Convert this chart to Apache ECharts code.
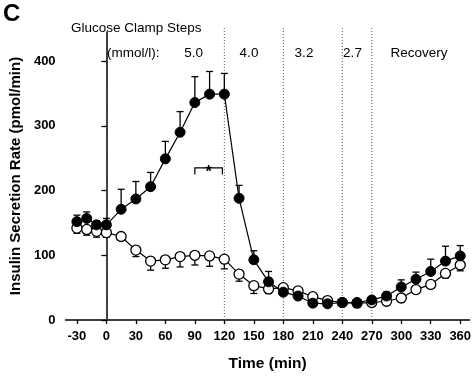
<!DOCTYPE html>
<html>
<head>
<meta charset="utf-8">
<script src="https://cdn.jsdelivr.net/npm/echarts@6/dist/echarts.min.js"></script>
<style>html,body{margin:0;padding:0;background:#fff;}#c{width:474px;height:378px;}</style>
</head>
<body>
<div id="c"></div>
<script>
const times = [-30,-20,-10,0,15,30,45,60,75,90,105,120,135,150,165,180,195,210,225,240,255,270,285,300,315,330,345,360];
const filledMean = [152,157,147,147,171,187,206,249,290,336,349,349,188,93,59,43,37,26,25,27,27,31,37,51,63,75,91,99];
const filledErr  = [10,10,6,10,31,27,22,27,32,40,35,32,20,14,16,5,4,3,3,3,4,5,6,11,11,19,23,16];
const openMean   = [142,140,137,135,129,108,91,93,98,100,99,94,71,53,48,50,45,36,30,27,26,27,29,34,47,55,72,85];
const openErr    = [8,9,9,7,3,10,14,13,16,15,16,15,11,12,7,4,3,3,3,2,2,3,4,6,6,5,7,9];
const xTicks = [-30,0,30,60,90,120,150,180,210,240,270,300,330,360];
const yTicks = [0,100,200,300,400];
const stepTimes = [0,120,180,240,270];
const stepLabels = ['5.0','4.0','3.2','2.7','Recovery'];
const sigBracket = [90,118];

const chart = echarts.init(document.getElementById('c'));
const FONT = '"Liberation Sans", Arial, sans-serif';

function zip(a,b,c){return a.map((v,i)=>c?[v,b[i],c[i]]:[v,b[i]]);}

function errRender(dir){
  return function(params, api){
    const x = api.value(0), y = api.value(1), e = api.value(2);
    const p0 = api.coord([x,y]);
    const p1 = api.coord([x,y+dir*e]);
    const st = {stroke:'#000', lineWidth:1.3};
    return {type:'group', children:[
      {type:'line', shape:{x1:p0[0],y1:p0[1],x2:p1[0],y2:p1[1]}, style:st},
      {type:'line', shape:{x1:p1[0]-3.5,y1:p1[1],x2:p1[0]+3.5,y2:p1[1]}, style:st}
    ]};
  };
}

const yTop = 451;
const stepData = stepTimes.map((t,i)=>[t, i===0 ? 371 : yTop]);

chart.setOption({
  animation:false,
  grid:{left:62,right:4,top:32,bottom:58},
  xAxis:{
    type:'value', min:-41.5, max:369.5,
    name:'Time (min)', nameLocation:'middle', nameGap:36,
    nameTextStyle:{fontFamily:FONT,fontWeight:'bold',fontSize:15.5,color:'#000'},
    axisLine:{lineStyle:{color:'#000',width:1.5}},
    axisTick:{show:true,length:4,lineStyle:{color:'#000',width:1.3},customValues:xTicks},
    axisLabel:{customValues:xTicks,fontFamily:FONT,fontWeight:'bold',fontSize:13,color:'#000',margin:10},
    splitLine:{show:false}
  },
  yAxis:{
    type:'value', min:0, max:445,
    name:'Insulin Secretion Rate (pmol/min)', nameLocation:'middle', nameGap:38,
    nameTextStyle:{fontFamily:FONT,fontWeight:'bold',fontSize:15,color:'#000'},
    axisLine:{show:true,lineStyle:{color:'#000',width:1.5}},
    axisTick:{show:true,length:5,lineStyle:{color:'#000',width:1.3},customValues:yTicks},
    axisLabel:{customValues:yTicks,fontFamily:FONT,fontWeight:'bold',fontSize:13,color:'#000',margin:10},
    splitLine:{show:false}
  },
  series:[
    {type:'custom', z:1, clip:false, data:stepData,
      renderItem:function(params,api){
        const t=api.value(0), top=api.value(1);
        const a=api.coord([t,0]), b=api.coord([t,top]);
        return {type:'line',shape:{x1:a[0],y1:a[1],x2:b[0],y2:b[1]},style:{stroke:'#555',lineWidth:1,lineDash:[1,2]}};
      }},
    {type:'custom', z:2, data:zip(times,filledMean,filledErr), renderItem:errRender(1)},
    {type:'custom', z:2, data:zip(times,openMean,openErr), renderItem:errRender(-1)},
    {type:'line', z:3, data:zip(times,openMean), symbol:'circle', symbolSize:10,
      lineStyle:{color:'#000',width:1.2}, itemStyle:{color:'#fff',borderColor:'#000',borderWidth:1.3}},
    {type:'line', z:4, data:zip(times,filledMean), symbol:'circle', symbolSize:10,
      lineStyle:{color:'#000',width:1.2}, itemStyle:{color:'#000',borderColor:'#000',borderWidth:1}},
    {type:'custom', z:5, data:[[sigBracket[0],sigBracket[1],235,225]],
      renderItem:function(params,api){
        const a=api.coord([api.value(0),api.value(2)]);
        const b=api.coord([api.value(1),api.value(2)]);
        const a2=api.coord([api.value(0),api.value(3)]);
        const b2=api.coord([api.value(1),api.value(3)]);
        return {type:'group',children:[
          {type:'polyline',shape:{points:[[a2[0],a2[1]],[a[0],a[1]],[b[0],b[1]],[b2[0],b2[1]]]},style:{stroke:'#000',lineWidth:1.2,fill:null}},
          {type:'text',style:{text:'*',x:(a[0]+b[0])/2,y:a[1]+5,align:'center',verticalAlign:'middle',font:'bold 16px '+FONT,fill:'#000'}}
        ]};
      }}
  ],
  graphic:[
    {type:'text',left:3,top:2,style:{text:'C',font:'bold 24px '+FONT,fill:'#000'}},
    {type:'text',x:71,y:28,style:{text:'Glucose Clamp Steps',font:'13.5px '+FONT,fill:'#000',verticalAlign:'middle'}},
    {type:'text',x:107,y:53,style:{text:'(mmol/l):',font:'13.5px '+FONT,fill:'#000',verticalAlign:'middle'}}
  ].concat(stepLabels.map((s,i)=>({type:'text',x:[193.7,249,304,352.5,419][i],y:53,
      style:{text:s,font:'13.5px '+FONT,fill:'#000',align:'center',verticalAlign:'middle'}})))
});
</script>
</body>
</html>
